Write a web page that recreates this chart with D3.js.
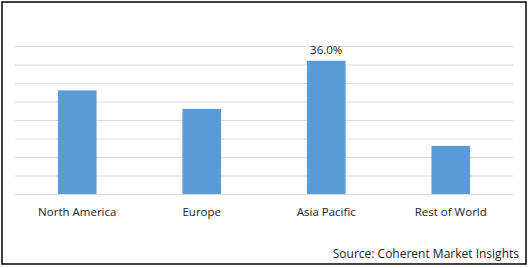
<!DOCTYPE html>
<html>
<head>
<meta charset="utf-8">
<script src="https://cdn.jsdelivr.net/npm/d3@7"></script>
<style>
  body { margin: 0; background: #fff; }
  text { font-family: "Open Sans", "Liberation Sans", sans-serif; fill: #222; }
</style>
</head>
<body>
<svg id="chart" width="531" height="268"></svg>
<script>
const regions = ["North America", "Europe", "Asia Pacific", "Rest of World"];
const shares = [28, 23, 36, 13];
const gridTicks = [0, 5, 10, 15, 20, 25, 30, 35, 40];
const labelled = ["Asia Pacific"];

const svg = d3.select("#chart");
const margin = { top: 46, right: 18, bottom: 74, left: 15 };
const W = 531, H = 268;
const plotW = W - margin.left - margin.right;
const plotH = H - margin.top - margin.bottom;

// outer frame
svg.append("rect")
  .attr("x", 2).attr("y", 2)
  .attr("width", 524).attr("height", 262)
  .attr("fill", "none")
  .attr("stroke", "#000")
  .attr("stroke-width", 1.5);

const g = svg.append("g").attr("transform", `translate(${margin.left},${margin.top})`);

const x = d3.scaleBand().domain(regions).range([0, plotW]).paddingInner(0.69).paddingOuter(0.345);
const y = d3.scaleLinear().domain([0, 40]).range([plotH, 0]);

// gridlines
g.append("g")
  .call(d3.axisLeft(y).tickValues(gridTicks).tickSize(-plotW).tickFormat(""))
  .call(a => a.select(".domain").remove())
  .call(a => a.selectAll(".tick line").attr("stroke", "#d9d9d9").attr("stroke-width", 1));

// bars
const data = regions.map((r, i) => ({ region: r, value: shares[i] }));
g.selectAll("rect.bar")
  .data(data)
  .enter()
  .append("rect")
  .attr("class", "bar")
  .attr("x", d => x(d.region))
  .attr("y", d => y(d.value))
  .attr("width", x.bandwidth())
  .attr("height", d => y(0) - y(d.value))
  .attr("fill", "#5b9bd5");

// value label
g.selectAll("text.value")
  .data(data.filter(d => labelled.includes(d.region)))
  .enter()
  .append("text")
  .attr("class", "value")
  .attr("x", d => x(d.region) + x.bandwidth() / 2)
  .attr("y", d => y(d.value) - 7)
  .attr("text-anchor", "middle")
  .style("font-size", "11.5px")
  .text(d => d.value.toFixed(1) + "%");

// category axis
g.append("g")
  .attr("transform", `translate(0,${plotH})`)
  .call(d3.axisBottom(x).tickSize(0).tickPadding(14))
  .call(a => a.select(".domain").remove())
  .call(a => a.selectAll("text").style("font-size", "11.5px").attr("fill", "#222"));

svg.append("text")
  .attr("x", 519)
  .attr("y", 258)
  .attr("text-anchor", "end")
  .style("font-size", "12px")
  .text("Source: Coherent Market Insights");
</script>
</body>
</html>
